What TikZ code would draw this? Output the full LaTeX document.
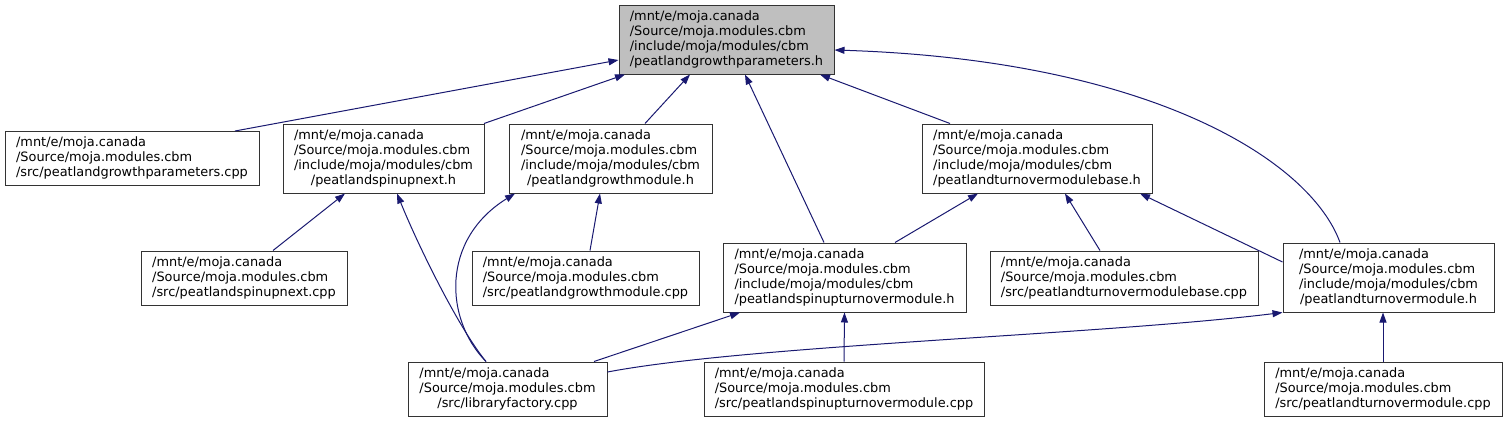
\documentclass[tikz,border=0pt]{standalone}
\usepackage{fontspec}
\setmainfont{DejaVu Sans}
\usetikzlibrary{arrows.meta, positioning}
\usepackage{xcolor}
\definecolor{edgeblue}{HTML}{191970}
\definecolor{nodegray}{HTML}{BFBFBF}
\def\hdrheight{69pt}
\def\srcheight{54pt}
\newcommand{\hdrname}[1]{\begin{tabular}{@{}l@{}}/mnt/e/moja.canada\\/Source/moja.modules.cbm\\/include/moja/modules/cbm\\\multicolumn{1}{@{}c@{}}{/#1}\end{tabular}}
\newcommand{\srcname}[1]{\begin{tabular}{@{}l@{}}/mnt/e/moja.canada\\/Source/moja.modules.cbm\\\multicolumn{1}{@{}c@{}}{/src/#1}\end{tabular}}

\begin{document}
\begin{tikzpicture}[x=1pt, y=-1pt, ->, >={Triangle[length=10pt,width=7pt]}, line width=1pt]
    \tikzstyle{file}=[rectangle, draw=black!80, fill=white, inner sep=0pt, font=\fontsize{12.9}{15}\selectfont]
    \tikzstyle{hdr file}=[file, minimum height=\hdrheight]
    \tikzstyle{src file}=[file, minimum height=\srcheight]
    \tikzstyle{inc}=[draw=edgeblue]
    \useasboundingbox (0,0) rectangle (1508,423);

    % The header that the graph is about
    \node[hdr file, fill=nodegray, minimum width=215pt] (params-h) at (726.5,39.5) {\hdrname{peatlandgrowthparameters.h}};

    % Second row
    \node[src file, minimum width=254pt] (params-cpp) at (132,158.5) {\srcname{peatlandgrowthparameters.cpp}};
    \node[hdr file, minimum width=201pt] (spinup-h) at (383.5,158.5) {\hdrname{peatlandspinupnext.h}};
    \node[hdr file, minimum width=203pt] (growth-h) at (610.5,158.5) {\hdrname{peatlandgrowthmodule.h}};
    \node[hdr file, minimum width=230pt] (tobase-h) at (1037,158.5) {\hdrname{peatlandturnovermodulebase.h}};

    % Third row
    \node[src file, minimum width=206pt] (spinup-cpp) at (244,278) {\srcname{peatlandspinupnext.cpp}};
    \node[src file, minimum width=227pt] (growth-cpp) at (585.5,278) {\srcname{peatlandgrowthmodule.cpp}};
    \node[hdr file, minimum width=243pt] (sutm-h) at (844.5,277.5) {\hdrname{peatlandspinupturnovermodule.h}};
    \node[src file, minimum width=268pt] (tobase-cpp) at (1124,278) {\srcname{peatlandturnovermodulebase.cpp}};
    \node[hdr file, minimum width=211pt] (tom-h) at (1388.5,277.5) {\hdrname{peatlandturnovermodule.h}};

    % Bottom row
    \node[src file, minimum width=199pt] (libfac) at (507.5,389) {\srcname{libraryfactory.cpp}};
    \node[src file, minimum width=280pt] (sutm-cpp) at (844,389) {\srcname{peatlandspinupturnovermodule.cpp}};
    \node[src file, minimum width=238pt] (tom-cpp) at (1383,389) {\srcname{peatlandturnovermodule.cpp}};

    % Straight include edges, from the top of a file to the bottom of its header
    \foreach \src/\sx/\dst/\dx in {spinup-h/100.5/params-h/-101.5, growth-h/34.5/params-h/-36.5,
        sutm-h/-20.5/params-h/18.5, tobase-h/-87/params-h/93.5, spinup-cpp/29/spinup-h/-38.5,
        growth-cpp/4.5/growth-h/-10.5, sutm-h/50.5/tobase-h/-59, tobase-cpp/-24/tobase-h/28,
        libfac/86.5/sutm-h/-104.5, sutm-cpp/0/sutm-h/0, tom-cpp/0/tom-h/-5.5}
        \draw[inc] ([xshift=\sx pt]\src.north) -- ([xshift=\dx pt]\dst.south);

    \draw[inc] ([xshift=103pt]params-cpp.north) -- ([yshift=-20.5pt]params-h.west);
    \draw[inc] ([yshift=15.5pt]tom-h.west) -- ([xshift=103pt]tobase-h.south);

    % Curved edges
    \draw[inc] ([xshift=-48.5pt]tom-h.north) .. controls (1310,160) and (1150,60) .. ([yshift=-10.5pt]params-h.east);
    \draw[inc] ([xshift=-21.5pt]libfac.north) .. controls (460,330) and (420,250) .. ([xshift=13.5pt]spinup-h.south);
    \draw[inc] ([xshift=-21.5pt]libfac.north) .. controls (445,320) and (440,240) .. ([xshift=-95.5pt]growth-h.south);
    \draw[inc] ([yshift=17pt]libfac.east) .. controls (750,345) and (1100,335) .. (tom-h.south west);
\end{tikzpicture}
\end{document}
